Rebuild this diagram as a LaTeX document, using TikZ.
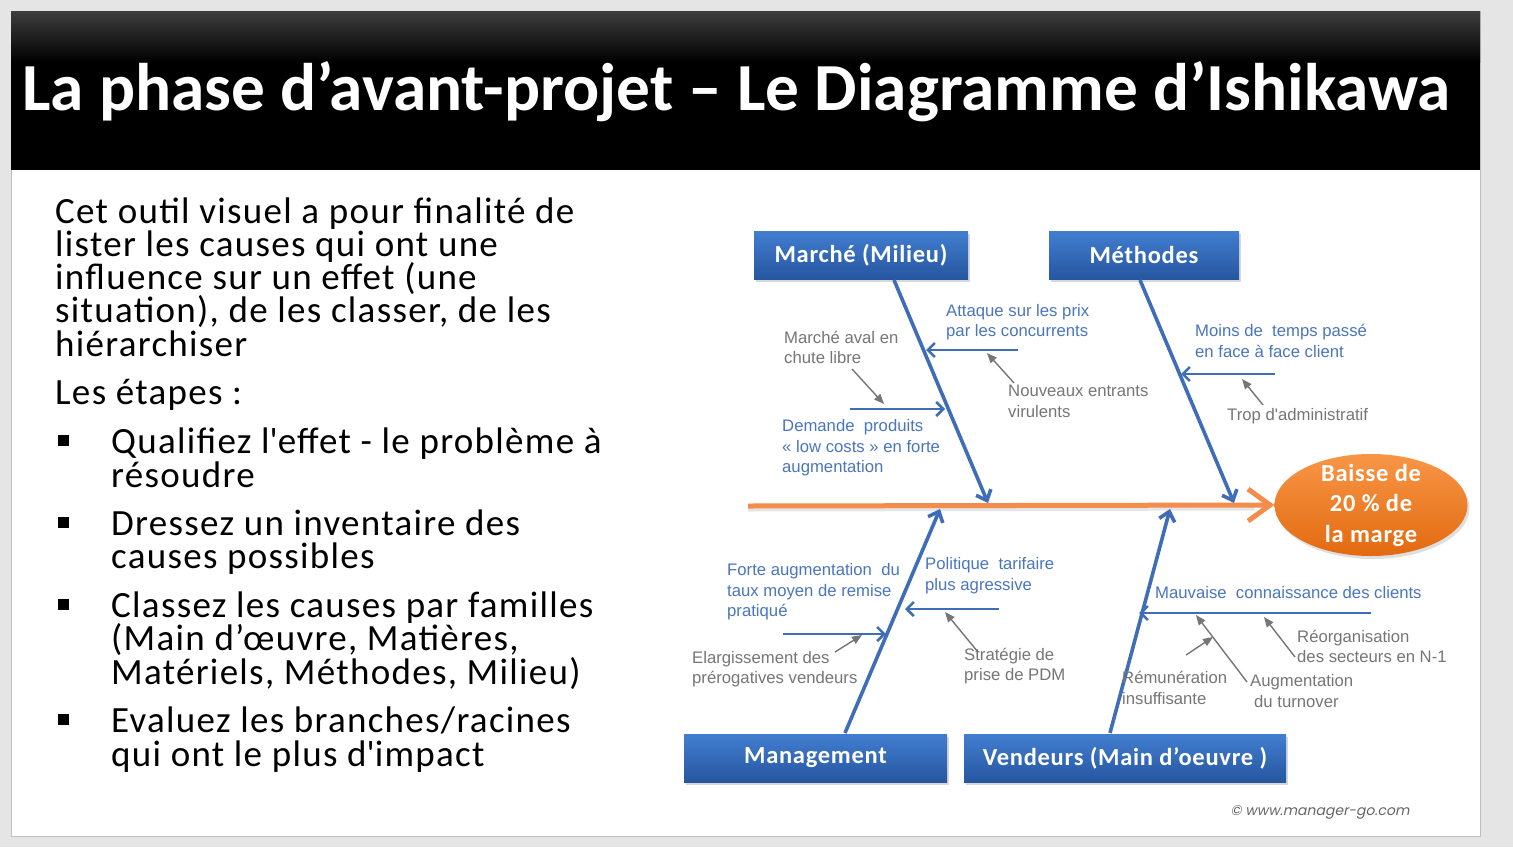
\documentclass[tikz,border=0pt]{standalone}
\usepackage{fontspec}
\setmainfont{Carlito}
\newfontfamily\widefont{Carlito}[LetterSpace=3]
\newfontfamily\bodyfont{Carlito}[LetterSpace=3.5]
\newfontfamily\labelfont{Liberation Sans}
\newfontfamily\webfont[FakeSlant=0.2]{Poppins}
\usetikzlibrary{arrows.meta,shadows,shapes.geometric}

\definecolor{slidegray}{RGB}{229,229,229}
\definecolor{branchblue}{RGB}{63,110,182}
\definecolor{boxtop}{RGB}{66,126,208}
\definecolor{boxbot}{RGB}{38,86,160}
\definecolor{causeblue}{RGB}{74,118,190}
\definecolor{causegray}{RGB}{118,118,118}
\definecolor{spineorange}{RGB}{244,140,76}
\definecolor{effecttop}{RGB}{248,150,70}
\definecolor{effectbot}{RGB}{226,106,16}

\tikzset{
  bodytext/.style={anchor=base west, inner sep=0pt, text height=25pt, text depth=7pt,
    font=\bodyfont\fontsize{37}{37}\selectfont},
  catbox/.style={rectangle, minimum height=48pt, inner sep=0pt,
    top color=boxtop, bottom color=boxbot, text=white,
    font=\widefont\fontsize{24.5}{24.5}\selectfont\bfseries,
    drop shadow={shadow xshift=2pt, shadow yshift=-3pt, opacity=0.3}},
  branch/.style={draw=branchblue, line width=3.6pt,
    -{Straight Barb[length=9pt,width=16pt]}},
  subarrow/.style={draw=branchblue, line width=2.6pt,
    -{Straight Barb[length=7pt,width=14pt]}},
  grayarrow/.style={draw=causegray, line width=1.4pt,
    -{Triangle[length=10pt,width=8pt]}},
  lbl/.style={anchor=base west, inner sep=0pt, font=\labelfont\fontsize{16.7}{16.7}\selectfont},
  causeb/.style={lbl, text=causeblue},
  causeg/.style={lbl, text=causegray},
}

\begin{document}
\begin{tikzpicture}[x=1pt, y=-1pt]
\useasboundingbox (0,0) rectangle (1513,847);

% slide and title bar
\fill[slidegray] (0,0) rectangle (1513,847);
\filldraw[fill=white, draw=black!25] (11,11) rectangle (1480,836);
\fill[black] (11,11) rectangle (1480,170);
\shade[top color={rgb,255:red,62;green,62;blue,62}, bottom color=black] (11,11) rectangle (1480,62);
\node[anchor=base west, inner sep=0pt, text=white, font=\fontsize{67.3}{67.3}\selectfont\bfseries]
  (title) at (22,110) {La phase d’avant-projet – Le Diagramme d’Ishikawa};

% left-hand text
\node[bodytext] (intro1) at (55,223) {Cet outil visuel a pour finalité de};
\node[bodytext] (intro2) at (55,256) {lister les causes qui ont une};
\node[bodytext] (intro3) at (55,289) {influence sur un effet (une};
\node[bodytext] (intro4) at (55,322) {situation), de les classer, de les};
\node[bodytext] (intro5) at (55,356) {hiérarchiser};
\node[bodytext] (steps) at (55,404) {Les étapes :};

\fill (58,435) rectangle (69,446);
\node[bodytext] (s1a) at (111,453) {Qualifiez l\textquotesingle effet - le problème à};
\node[bodytext] (s1b) at (111,487) {résoudre};
\fill (58,517) rectangle (69,528);
\node[bodytext] (s2a) at (111,535) {Dressez un inventaire des};
\node[bodytext] (s2b) at (111,568) {causes possibles};
\fill (58,599) rectangle (69,610);
\node[bodytext] (s3a) at (111,617) {Classez les causes par familles};
\node[bodytext] (s3b) at (111,650) {(Main d’œuvre, Matières,};
\node[bodytext] (s3c) at (111,684) {Matériels, Méthodes, Milieu)};
\fill (58,714) rectangle (69,725);
\node[bodytext] (s4a) at (111,732) {Evaluez les branches/racines};
\node[bodytext] (s4b) at (111,766) {qui ont le plus d\textquotesingle impact};

% category boxes
\node[catbox, minimum width=214pt] (marche) at (861,255) {Marché (Milieu)};
\node[catbox, minimum width=190pt] (methodes) at (1144,255) {Méthodes};
\node[catbox, minimum width=263pt] (management) at (815.5,758) {Management};
\node[catbox, minimum width=322pt] (vendeurs) at (1125,758) {Vendeurs (Main d’oeuvre )};

% effect
\node[ellipse, minimum width=193pt, minimum height=102pt, inner sep=0pt,
  top color=effecttop, bottom color=effectbot,
  drop shadow={shadow xshift=2pt, shadow yshift=-3pt, opacity=0.25}] (effect) at (1371,505) {};
\node[align=center, text=white, font=\widefont\fontsize{24.5}{30.5}\selectfont\bfseries, inner sep=0pt]
  (effecttext) at (effect.center) {Baisse de\\20 \% de\\la marge};

% spine with its soft shadow
\coordinate (spinetail) at (748,506);
\draw[black!10, line width=5pt, shorten >=20pt] ([yshift=-3pt]spinetail) -- ([yshift=-3pt]effect.west);
\draw[spineorange, line width=5pt, -{Straight Barb[length=22pt,width=32pt]}] (spinetail) -- (effect.west);

% main branches
\coordinate (mtop) at (894,280);
\coordinate (mtip) at (988,503);
\coordinate (ttop) at (1140,280);
\coordinate (ttip) at (1234,503);
\coordinate (gbot) at (845,733);
\coordinate (gtip) at (940,509);
\coordinate (vbot) at (1110,733);
\coordinate (vtip) at (1170,509);
\draw[branch] (mtop) -- (mtip);
\draw[branch] (ttop) -- (ttip);
\draw[branch] (gbot) -- (gtip);
\draw[branch] (vbot) -- (vtip);

% sub-causes: Marché
\coordinate (attS) at (1018,350);  \coordinate (attE) at (926,350);
\coordinate (demS) at (850,409);   \coordinate (demE) at (945,409);
\draw[subarrow] (attS) -- (attE);
\draw[subarrow] (demS) -- (demE);
\node[causeb] (att1) at (946,316) {Attaque sur les prix};
\node[causeb] (att2) at (946,336) {par les concurrents};
\node[causeb] (dem1) at (782,431) {Demande\ \ produits};
\node[causeb] (dem2) at (782,452) {« low costs » en forte};
\node[causeb] (dem3) at (782,472) {augmentation};
\node[causeg] (aval1) at (784,343) {Marché aval en};
\node[causeg] (aval2) at (784,363) {chute libre};
\node[causeg] (nouv1) at (1008,396) {Nouveaux entrants};
\node[causeg] (nouv2) at (1008,417) {virulents};
\coordinate (avalS) at (852,369);  \coordinate (avalE) at (884,404);
\coordinate (nouvS) at (1014,383); \coordinate (nouvE) at (987,353);
\draw[grayarrow] (avalS) -- (avalE);
\draw[grayarrow] (nouvS) -- (nouvE);

% sub-causes: Méthodes
\coordinate (moinsS) at (1275,374); \coordinate (moinsE) at (1181,374);
\draw[subarrow] (moinsS) -- (moinsE);
\node[causeb] (moins1) at (1195,336) {Moins de\ \ temps passé};
\node[causeb] (moins2) at (1195,357) {en face à face client};
\node[causeg] (trop) at (1227,420) {Trop d'administratif};
\coordinate (tropS) at (1263,405); \coordinate (tropE) at (1242,379);
\draw[grayarrow] (tropS) -- (tropE);

% sub-causes: Management
\coordinate (forteS) at (783,634); \coordinate (forteE) at (886,634);
\coordinate (polS) at (999,609);   \coordinate (polE) at (905,609);
\draw[subarrow] (forteS) -- (forteE);
\draw[subarrow] (polS) -- (polE);
\node[causeb] (forte1) at (727,575) {Forte augmentation\ \ du};
\node[causeb] (forte2) at (727,596) {taux moyen de remise};
\node[causeb] (forte3) at (727,616) {pratiqué};
\node[causeb] (pol1) at (925,569) {Politique\ \ tarifaire};
\node[causeb] (pol2) at (925,590) {plus agressive};
\node[causeg] (elar1) at (692,663) {Elargissement des};
\node[causeg] (elar2) at (692,683) {prérogatives vendeurs};
\node[causeg] (strat1) at (964,660) {Stratégie de};
\node[causeg] (strat2) at (964,680) {prise de PDM};
\coordinate (elarS) at (835,652);  \coordinate (elarE) at (862,635);
\coordinate (stratS) at (978,652); \coordinate (stratE) at (945,612);
\draw[grayarrow] (elarS) -- (elarE);
\draw[grayarrow] (stratS) -- (stratE);

% sub-causes: Vendeurs
\coordinate (mauvS) at (1371,613); \coordinate (mauvE) at (1139,613);
\draw[subarrow] (mauvS) -- (mauvE);
\node[causeb] (mauv) at (1155,598) {Mauvaise\ \ connaissance des clients};
\node[causeg] (reor1) at (1297,642) {Réorganisation};
\node[causeg] (reor2) at (1297,662) {des secteurs en N-1};
\node[causeg] (augm1) at (1250,686) {Augmentation};
\node[causeg] (augm2) at (1254,707) {du turnover};
\node[causeg] (remu1) at (1122,683) {Rémunération};
\node[causeg] (remu2) at (1122,704) {insuffisante};
\coordinate (reorS) at (1295,657); \coordinate (reorE) at (1264,617);
\coordinate (augmS) at (1247,682); \coordinate (augmE) at (1196,615);
\coordinate (remuS) at (1186,655); \coordinate (remuE) at (1213,637);
\draw[grayarrow] (reorS) -- (reorE);
\draw[grayarrow] (augmS) -- (augmE);
\draw[grayarrow] (remuS) -- (remuE);

% source
\node[text=black!60, font=\webfont\fontsize{14}{14}\selectfont, inner sep=0pt]
  (source) at (1320,812) {© www.manager-go.com};
\end{tikzpicture}
\end{document}
